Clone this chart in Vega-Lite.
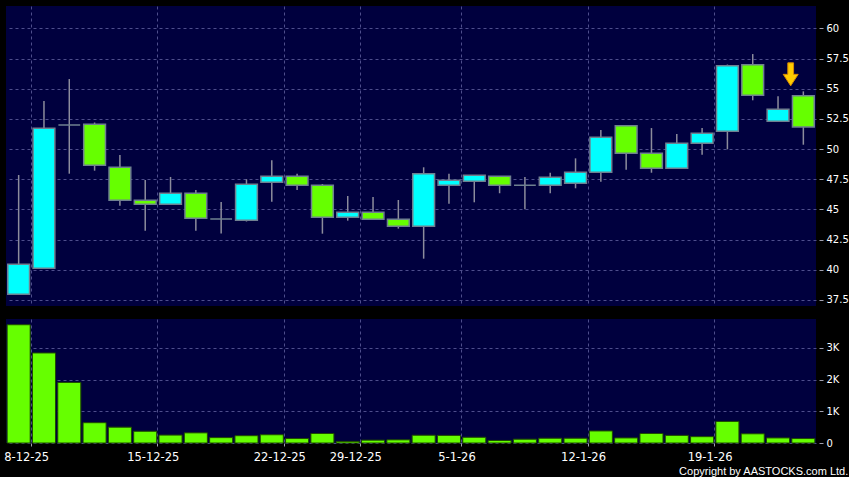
{
  "$schema": "https://vega.github.io/schema/vega-lite/v6.json",
  "background": "#000000",
  "padding": {"left": 3, "top": 6, "right": 0, "bottom": 0},
  "datasets": {
    "ohlc": [
      {"date": "8-12-25", "open": 37.97, "high": 47.85, "low": 37.97, "close": 40.46, "volume": 3730},
      {"date": "9-12-25", "open": 40.13, "high": 53.98, "low": 40.13, "close": 51.72, "volume": 2840},
      {"date": "10-12-25", "open": 52.0, "high": 55.8, "low": 47.96, "close": 52.0, "volume": 1910},
      {"date": "11-12-25", "open": 52.05, "high": 52.2, "low": 48.21, "close": 48.66, "volume": 640},
      {"date": "12-12-25", "open": 48.49, "high": 49.51, "low": 45.31, "close": 45.76, "volume": 500},
      {"date": "15-12-25", "open": 45.76, "high": 47.44, "low": 43.24, "close": 45.43, "volume": 370},
      {"date": "16-12-25", "open": 45.43, "high": 47.69, "low": 45.43, "close": 46.34, "volume": 250},
      {"date": "17-12-25", "open": 46.34, "high": 46.61, "low": 43.24, "close": 44.27, "volume": 320},
      {"date": "18-12-25", "open": 44.2, "high": 45.62, "low": 43.0, "close": 44.2, "volume": 170},
      {"date": "19-12-25", "open": 44.1, "high": 47.5, "low": 44.0, "close": 47.08, "volume": 230},
      {"date": "22-12-25", "open": 47.25, "high": 49.07, "low": 45.64, "close": 47.74, "volume": 260},
      {"date": "23-12-25", "open": 47.74, "high": 47.96, "low": 46.61, "close": 47.0, "volume": 140},
      {"date": "24-12-25", "open": 47.0, "high": 47.1, "low": 42.99, "close": 44.35, "volume": 300},
      {"date": "29-12-25", "open": 44.35, "high": 46.11, "low": 44.07, "close": 44.76, "volume": 50},
      {"date": "30-12-25", "open": 44.76, "high": 46.03, "low": 44.18, "close": 44.18, "volume": 90},
      {"date": "31-12-25", "open": 44.18, "high": 45.78, "low": 43.41, "close": 43.6, "volume": 100},
      {"date": "2-1-26", "open": 43.6, "high": 48.49, "low": 40.92, "close": 47.96, "volume": 245},
      {"date": "5-1-26", "open": 47.0, "high": 47.96, "low": 45.48, "close": 47.41, "volume": 240},
      {"date": "6-1-26", "open": 47.33, "high": 47.83, "low": 45.59, "close": 47.83, "volume": 180},
      {"date": "7-1-26", "open": 47.74, "high": 47.74, "low": 46.34, "close": 47.0, "volume": 80},
      {"date": "8-1-26", "open": 47.0, "high": 47.69, "low": 45.01, "close": 47.0, "volume": 120},
      {"date": "9-1-26", "open": 47.0, "high": 48.04, "low": 46.34, "close": 47.66, "volume": 150},
      {"date": "12-1-26", "open": 47.16, "high": 49.23, "low": 46.75, "close": 48.08, "volume": 150},
      {"date": "13-1-26", "open": 48.08, "high": 51.58, "low": 47.3, "close": 50.97, "volume": 380},
      {"date": "14-1-26", "open": 51.93, "high": 51.93, "low": 48.29, "close": 49.65, "volume": 160},
      {"date": "15-1-26", "open": 49.65, "high": 51.74, "low": 48.04, "close": 48.41, "volume": 300},
      {"date": "16-1-26", "open": 48.41, "high": 51.25, "low": 48.41, "close": 50.48, "volume": 240},
      {"date": "19-1-26", "open": 50.48, "high": 51.74, "low": 49.53, "close": 51.31, "volume": 200},
      {"date": "20-1-26", "open": 51.47, "high": 57.0, "low": 49.98, "close": 56.9, "volume": 680},
      {"date": "21-1-26", "open": 56.99, "high": 57.87, "low": 54.04, "close": 54.45, "volume": 290},
      {"date": "22-1-26", "open": 52.3, "high": 54.37, "low": 52.3, "close": 53.29, "volume": 160},
      {"date": "23-1-26", "open": 54.42, "high": 54.78, "low": 50.36, "close": 51.83, "volume": 140}
    ]
  },
  "title": {
    "text": "Copyright by AASTOCKS.com Ltd.",
    "orient": "bottom",
    "anchor": "end",
    "font": "Liberation Sans",
    "fontSize": 11,
    "fontWeight": "normal",
    "color": "#ffffff",
    "offset": 3
  },
  "spacing": 13,
  "vconcat": [
    {
      "width": 810,
      "height": 300,
      "data": {"name": "ohlc"},
      "encoding": {
        "x": {
          "field": "date",
          "type": "ordinal",
          "sort": null,
          "scale": {"paddingInner": 0, "paddingOuter": 0},
          "axis": {
            "title": null,
            "values": ["8-12-25", "15-12-25", "22-12-25", "29-12-25", "5-1-26", "12-1-26", "19-1-26"],
            "bandPosition": 1,
            "labels": false,
            "ticks": false,
            "domain": false,
            "grid": true
          }
        }
      },
      "layer": [
        {
          "mark": {"type": "rule", "color": "#8c8c9c", "strokeWidth": 1.5},
          "encoding": {
            "y": {
              "field": "low",
              "type": "quantitative",
              "scale": {"domain": [37.0, 61.85], "nice": false, "zero": false},
              "axis": {
                "title": null,
                "orient": "right",
                "values": [37.5, 40, 42.5, 45, 47.5, 50, 52.5, 55, 57.5, 60],
                "labelExpr": "'' + datum.value",
                "grid": true,
                "offset": 3,
                "tickSize": 4,
                "labelPadding": 3,
                "labelFontSize": 10
              }
            },
            "y2": {"field": "high"}
          }
        },
        {
          "mark": {"type": "bar", "width": {"band": 0.86}, "stroke": "#6f8090", "strokeWidth": 1.5},
          "encoding": {
            "y": {
              "field": "open",
              "type": "quantitative",
              "axis": {
                "title": null,
                "orient": "right",
                "values": [37.5, 40, 42.5, 45, 47.5, 50, 52.5, 55, 57.5, 60],
                "labelExpr": "'' + datum.value",
                "grid": true,
                "offset": 3,
                "tickSize": 4,
                "labelPadding": 3,
                "labelFontSize": 10
              }
            },
            "y2": {"field": "close"},
            "fill": {
              "condition": [
                {"test": "datum.close > datum.open", "value": "#00ffff"},
                {"test": "datum.close < datum.open", "value": "#66ff00"}
              ],
              "value": "#8c8c9c"
            }
          }
        },
        {
          "transform": [{"filter": "datum.date == '23-1-26'"}],
          "mark": {
            "type": "point",
            "shape": "M-0.25,-1L0.25,-1L0.25,0L0.65,0L0,1L-0.65,0L-0.25,0Z",
            "filled": true,
            "fill": "#ffcc00",
            "stroke": "#d88a00",
            "strokeWidth": 1,
            "opacity": 1,
            "size": 529,
            "yOffset": -17
          },
          "encoding": {
            "x": {"field": "date", "type": "ordinal", "sort": null, "bandPosition": 0},
            "y": {
              "field": "high",
              "type": "quantitative",
              "axis": {
                "title": null,
                "orient": "right",
                "values": [37.5, 40, 42.5, 45, 47.5, 50, 52.5, 55, 57.5, 60],
                "labelExpr": "'' + datum.value",
                "grid": true,
                "offset": 3,
                "tickSize": 4,
                "labelPadding": 3,
                "labelFontSize": 10
              }
            }
          }
        }
      ]
    },
    {
      "width": 810,
      "height": 124,
      "data": {"name": "ohlc"},
      "mark": {"type": "bar", "width": {"band": 0.91}, "fill": "#66ff00", "stroke": "#1f4a00", "strokeWidth": 1},
      "encoding": {
        "x": {
          "field": "date",
          "type": "ordinal",
          "sort": null,
          "scale": {"paddingInner": 0, "paddingOuter": 0},
          "axis": {
            "title": null,
            "values": ["8-12-25", "15-12-25", "22-12-25", "29-12-25", "5-1-26", "12-1-26", "19-1-26"],
            "bandPosition": 1,
            "labelAngle": 0,
            "labelOffset": 8,
            "labelFontSize": 11.5,
            "labelPadding": 5,
            "tickSize": 3,
            "domain": false,
            "grid": true
          }
        },
        "y": {
          "field": "volume",
          "type": "quantitative",
          "scale": {"domain": [0, 3911], "nice": false},
          "axis": {
            "title": null,
            "orient": "right",
            "values": [0, 1000, 2000, 3000],
            "labelExpr": "datum.value == 0 ? '0' : (datum.value / 1000) + 'K'",
            "grid": true,
            "offset": 3,
            "tickSize": 4,
            "labelPadding": 3,
            "labelFontSize": 10
          }
        }
      }
    }
  ],
  "config": {
    "view": {"fill": "#00003e", "stroke": null},
    "axis": {
      "domain": false,
      "gridColor": "#4e4e8c",
      "gridDash": [3, 3],
      "gridWidth": 1,
      "tickColor": "#a0a0b0",
      "labelColor": "#ffffff",
      "labelFont": "DejaVu Sans"
    }
  }
}
